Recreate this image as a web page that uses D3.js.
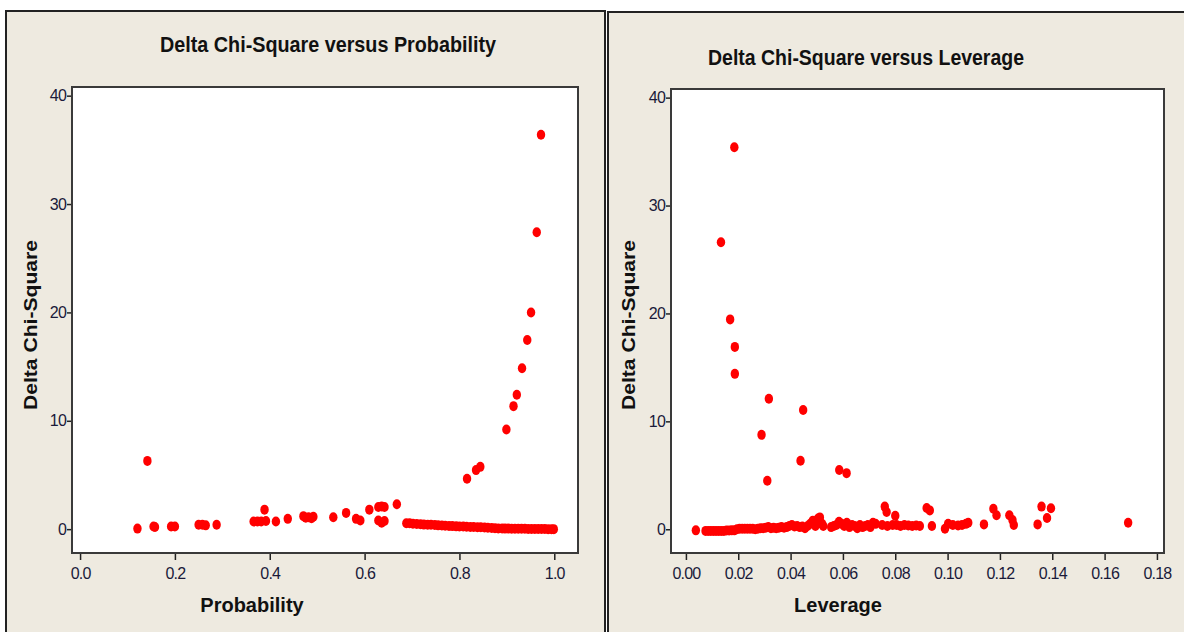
<!DOCTYPE html>
<html><head><meta charset="utf-8">
<script src="https://cdn.jsdelivr.net/npm/d3@7"></script>
<style>
html,body{margin:0;padding:0;background:#fff;}
svg{display:block;}
.tick text{font-family:"Liberation Sans Narrow","Liberation Sans",sans-serif;font-size:16px;fill:#1a1a3a;letter-spacing:-0.8px;}
.ttl{font-family:"Liberation Sans",sans-serif;font-weight:bold;fill:#111;}
</style></head>
<body>
<svg id="c" width="1184" height="632"></svg>
<script>
// Left chart: Delta Chi-Square vs Probability
const probability = [0.121,0.142,0.155,0.158,0.192,0.200,0.250,0.258,0.265,0.288,0.366,0.374,0.382,0.389,0.392,0.413,0.438,0.471,0.476,0.482,0.488,0.492,0.534,0.561,0.582,0.591,0.610,0.629,0.636,0.642,0.629,0.636,0.642,0.668,
0.688,0.695,0.702,0.710,0.718,0.725,0.733,0.740,0.748,0.755,0.763,0.770,0.778,0.785,0.793,0.800,0.808,0.815,0.823,0.830,0.838,0.845,0.853,0.860,0.868,0.875,0.882,0.890,0.896,0.903,0.910,0.917,0.924,0.931,0.938,0.945,0.952,0.959,0.966,0.973,0.980,0.987,0.994,0.999,
0.816,0.835,0.844,0.899,0.914,0.921,0.932,0.943,0.951,0.963,0.972];
const deltaChiSqProb = [0.05,6.3,0.25,0.2,0.25,0.25,0.4,0.4,0.35,0.4,0.7,0.7,0.7,1.8,0.75,0.7,0.95,1.2,1.05,1.1,1.0,1.15,1.1,1.5,0.95,0.8,1.8,2.05,2.1,2.05,0.8,0.6,0.75,2.3,
0.55,0.55,0.5,0.48,0.45,0.42,0.4,0.4,0.38,0.35,0.33,0.32,0.3,0.28,0.26,0.25,0.24,0.22,0.2,0.2,0.18,0.17,0.15,0.13,0.1,0.08,0.07,0.06,0.05,0.05,0.04,0.04,0.03,0.03,0.03,0.02,0.02,0.02,0.01,0.01,0.01,0.0,0.0,0.0,
4.65,5.45,5.75,9.2,11.35,12.4,14.85,17.45,20.0,27.4,36.4];
const probTicks = [0.0,0.2,0.4,0.6,0.8,1.0];
const probTickLabels = ["0.0","0.2","0.4","0.6","0.8","1.0"];

// Right chart: Delta Chi-Square vs Leverage
const leverage = [0.0185,0.0134,0.0169,0.0187,0.0187,0.0317,0.0448,0.0289,0.0438,0.0311,0.0586,0.0614,0.0760,0.0767,0.0800,0.0920,0.0932,0.1175,0.1187,0.1236,0.1248,0.1253,0.1359,0.1380,0.1395,0.1344,0.1690,0.1139,0.0940,0.0990,
0.0038,0.0075,0.0085,0.0095,0.0105,0.0115,0.0125,0.0135,0.0145,0.0155,0.0165,0.0175,0.0185,0.0195,0.0205,0.0215,0.0225,0.0235,0.0245,0.0255,0.0265,0.0275,0.0285,0.0295,0.0305,0.0315,0.0325,0.0335,0.0345,0.0355,0.0365,0.0375,0.0385,0.0395,0.0405,0.0415,0.0425,0.0435,0.0445,0.0455,0.0465,0.0475,0.0485,0.0495,0.0505,0.0512,0.0520,0.0525,0.0555,0.0565,0.0575,0.0585,0.0595,0.0605,0.0615,0.0625,0.0635,0.0645,0.0655,0.0665,0.0675,0.0685,0.0695,0.0705,0.0715,0.0725,0.0750,0.0770,0.0790,0.0805,0.0820,0.0835,0.0850,0.0865,0.0880,0.0894,0.1002,0.1020,0.1040,0.1055,0.1070,0.1079];
const deltaChiSqLev = [35.4,26.6,19.45,16.9,14.4,12.1,11.05,8.75,6.35,4.5,5.5,5.2,2.1,1.6,1.25,1.97,1.75,1.9,1.3,1.3,0.85,0.4,2.1,1.05,1.95,0.45,0.6,0.45,0.3,0.05,
-0.1,-0.15,-0.15,-0.15,-0.15,-0.15,-0.15,-0.15,-0.15,-0.12,-0.12,-0.1,-0.1,0.0,0.05,0.05,0.05,0.05,0.05,0.05,0.0,0.05,0.1,0.1,0.15,0.2,0.1,0.15,0.1,0.15,0.2,0.15,0.2,0.3,0.4,0.25,0.3,0.2,0.25,0.1,0.3,0.5,0.8,0.3,1.0,1.1,0.5,0.3,0.2,0.3,0.4,0.7,0.5,0.3,0.6,0.2,0.4,0.3,0.1,0.4,0.2,0.3,0.4,0.2,0.6,0.5,0.4,0.3,0.4,0.4,0.3,0.4,0.35,0.3,0.35,0.3,0.5,0.4,0.35,0.4,0.5,0.6];
const levTicks = [0.00,0.02,0.04,0.06,0.08,0.10,0.12,0.14,0.16,0.18];
const levTickLabels = ["0.00","0.02","0.04","0.06","0.08","0.10","0.12","0.14","0.16","0.18"];

const yTicks = [0,10,20,30,40];
const yTickLabels = ["0","10","20","30","40"];

const svg = d3.select("#c");
const BG = "#eeeae0";

// panels
svg.append("rect").attr("x",6).attr("y",11).attr("width",599).attr("height",640).attr("fill",BG).attr("stroke","#222").attr("stroke-width",2);
svg.append("rect").attr("x",608).attr("y",12).attr("width",590).attr("height",640).attr("fill",BG).attr("stroke","#222").attr("stroke-width",2);

function panel(cfg){
  const x = d3.scaleLinear().domain(cfg.xDomain).range([cfg.left,cfg.right]);
  const y = d3.scaleLinear().domain([-2.2,40.8]).range([553,cfg.top]);
  const g = svg.append("g");
  g.append("rect").attr("x",cfg.left).attr("y",cfg.top).attr("width",cfg.right-cfg.left).attr("height",553-cfg.top)
    .attr("fill","#fff").attr("stroke","#3a3a3a").attr("stroke-width",2);
  const xa = g.append("g").attr("transform",`translate(0,554)`)
    .call(d3.axisBottom(x).tickValues(cfg.xTicks).tickFormat((d,i)=>cfg.xLabels[i]).tickSize(6).tickPadding(8));
  xa.select(".domain").remove();
  const ya = g.append("g").attr("transform",`translate(${cfg.left-1},0)`)
    .call(d3.axisLeft(y).tickValues(yTicks).tickFormat((d,i)=>yTickLabels[i]).tickSize(4).tickPadding(1));
  ya.select(".domain").remove();
  g.selectAll(".tick line").attr("stroke","#222").attr("stroke-width",1.5);
  g.selectAll("ellipse.pt").data(cfg.xs.map((v,i)=>[v,cfg.ys[i]])).join("ellipse").attr("class","pt")
    .attr("cx",d=>x(d[0])).attr("cy",d=>y(d[1])).attr("rx",4.2).attr("ry",5).attr("fill","#ff0000");
  g.append("text").attr("class","ttl").attr("x",cfg.titleX).attr("y",cfg.titleY).attr("text-anchor","middle")
    .attr("font-size",22).attr("textLength",cfg.titleLen).attr("lengthAdjust","spacingAndGlyphs").text(cfg.title);
  g.append("text").attr("class","ttl").attr("x",cfg.xLabX).attr("y",612).attr("text-anchor","middle")
    .attr("font-size",20).text(cfg.xLabel);
  g.append("text").attr("class","ttl").attr("transform",`translate(${cfg.yLabX},325) rotate(-90)`).attr("text-anchor","middle")
    .attr("font-size",18).attr("textLength",170).attr("lengthAdjust","spacingAndGlyphs").text("Delta Chi-Square");
}

panel({left:72,right:578,top:87,xDomain:[-0.017,1.05],xTicks:probTicks,xLabels:probTickLabels,xs:probability,ys:deltaChiSqProb,
  title:"Delta Chi-Square versus Probability",titleX:328,titleY:52,titleLen:336,xLabel:"Probability",xLabX:252,yLabX:37});
panel({left:671,right:1164,top:89,xDomain:[-0.0057,0.1827],xTicks:levTicks,xLabels:levTickLabels,xs:leverage,ys:deltaChiSqLev,
  title:"Delta Chi-Square versus Leverage",titleX:866,titleY:65,titleLen:316,xLabel:"Leverage",xLabX:838,yLabX:635});
</script>
</body></html>
